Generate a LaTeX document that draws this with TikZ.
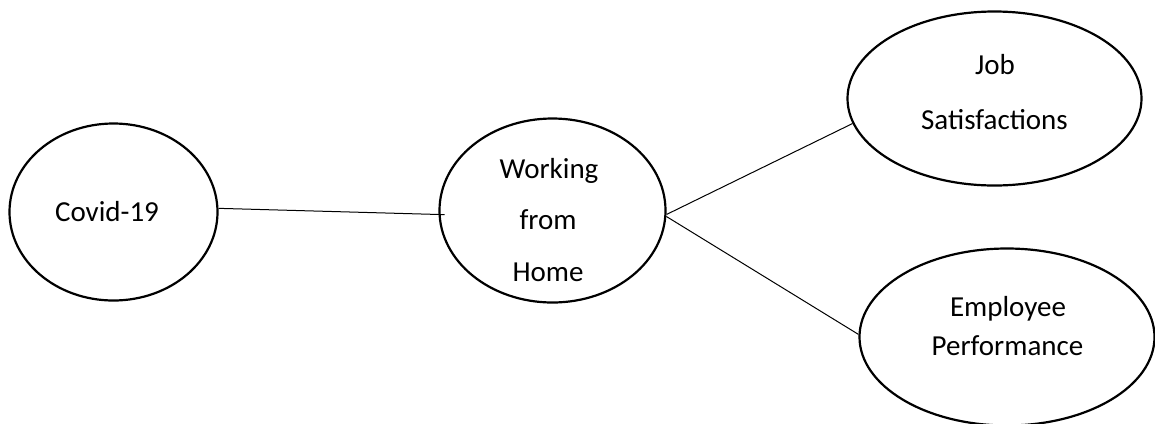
\documentclass[tikz,border=0pt]{standalone}
\usepackage{fontspec}
\setmainfont{Carlito}
\usetikzlibrary{shapes.geometric}
\begin{document}
\begin{tikzpicture}[x=1bp,y=-1bp,
  oval/.style={draw=black,ellipse,line width=2.2bp,inner sep=0pt},
  lbl/.style={anchor=base,inner sep=0pt,font=\fontsize{29bp}{35bp}\selectfont},
  conn/.style={draw=black,line width=1bp}]
\useasboundingbox (0,0) rectangle (1155,423);
\node[oval,minimum width=208bp,minimum height=177bp] (covid) at (113.5,212) {};
\node[oval,minimum width=226bp,minimum height=184bp] (wfh) at (552.5,210.5) {};
\node[oval,minimum width=294bp,minimum height=174bp] (job) at (994.5,98.5) {};
\node[oval,minimum width=295bp,minimum height=177bp] (emp) at (1007,337) {};
\node[lbl] (tcovid) at (107,221) {Covid-19};
\node[lbl] (tw1) at (549,178) {Working};
\node[lbl] (tw2) at (548,229) {from};
\node[lbl] (tw3) at (548,281) {Home};
\node[lbl] (tj1) at (995,74) {Job};
\node[lbl] (tj2) at (994.5,129) {Satisfactions};
\node[lbl] (te1) at (1008,316) {Employee};
\node[lbl] (te2) at (1007.5,355) {Performance};
\draw[conn,shorten >=-6bp] (covid.2) -- (wfh.182);
\draw[conn] (wfh.-2) -- (job.190);
\draw[conn] (wfh.-3) -- (emp.179);
\end{tikzpicture}
\end{document}
